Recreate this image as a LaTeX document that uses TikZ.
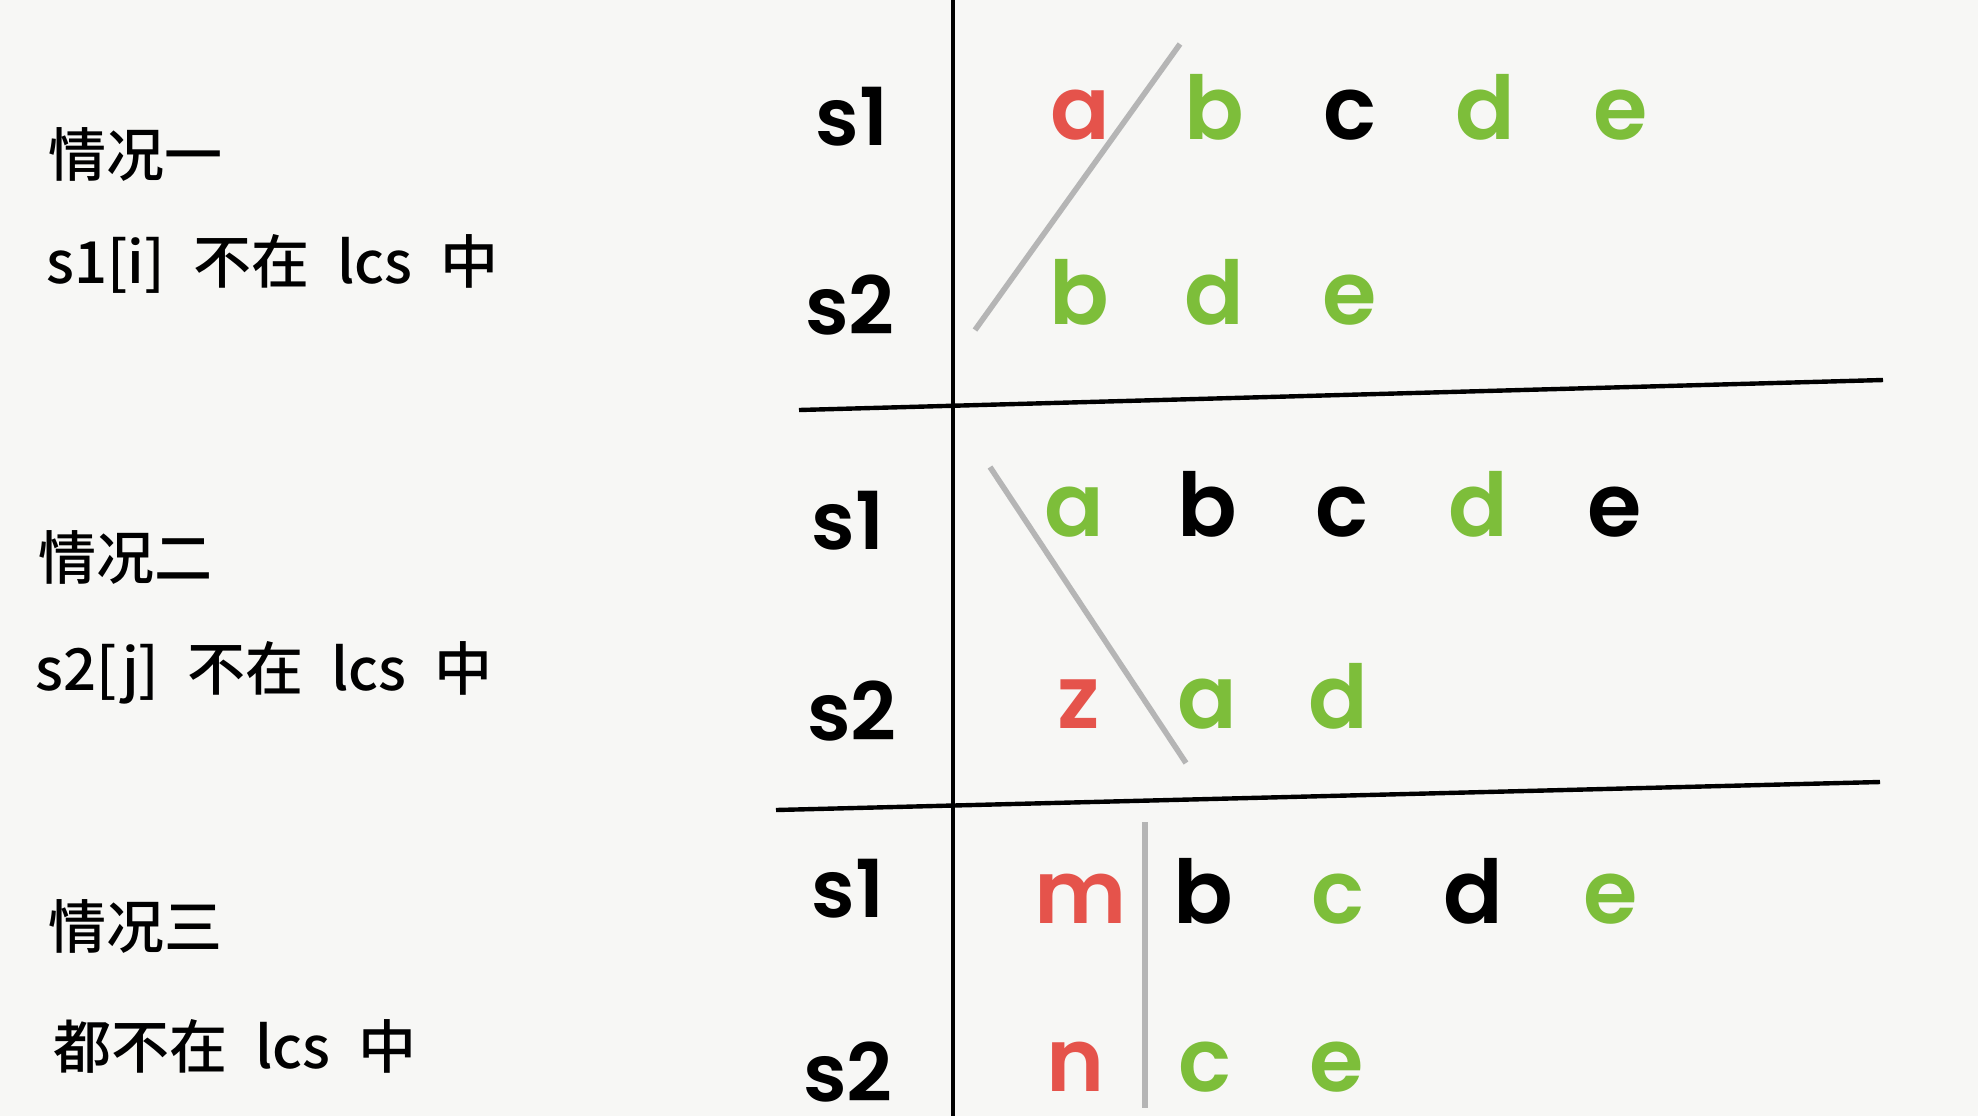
\documentclass[tikz,border=0pt]{standalone}
\usepackage{fontspec}
\setmainfont{Poppins}
\newfontfamily\tfont{Poppins SemiBold}
\newfontfamily\cjk{Noto Sans CJK SC Medium}
\definecolor{bg}{HTML}{F7F7F5}
\definecolor{cred}{HTML}{E5534B}
\definecolor{cgreen}{HTML}{7DBE3A}
\definecolor{cgrey}{HTML}{B5B5B5}
\newcommand{\gap}{\hspace{14pt}}
\begin{document}
\begin{tikzpicture}[x=0.5pt,y=-0.5pt,
  lab/.style={font=\tfont\fontsize{40}{48}\selectfont, anchor=base, inner sep=0pt, text depth=0pt},
  ch/.style={font=\tfont\fontsize{44}{52}\selectfont, anchor=base, inner sep=0pt, text depth=0pt},
  note/.style={font=\cjk\fontsize{29}{34}\selectfont, anchor=base west, inner sep=0pt, text depth=0pt},
  rule/.style={line width=2.2pt, black},
  vrule/.style={line width=1.8pt, black},
  cut/.style={line width=2.8pt, cgrey},
  R/.style={ch, text=cred}, G/.style={ch, text=cgreen}, K/.style={ch, text=black}]
\fill[bg] (0,0) rectangle (1978,1116);
\useasboundingbox (0,0) rectangle (1978,1116);

% left notes
\node[note] (n1) at (48,176) {情况一};
\node[note] (n2) at (46,283) {s1[i]\gap 不在\gap lcs\gap 中};
\node[note] (n3) at (38,579) {情况二};
\node[note] (n4) at (35,690) {s2[j]\gap 不在\gap lcs\gap 中};
\node[note] (n5) at (48,948) {情况三};
\node[note] (n6) at (53,1068) {都不在\gap lcs\gap 中};

% table rules
\coordinate (vt) at (953,0);
\coordinate (vb) at (953,1116);
\draw[vrule] (vt) -- (vb);
\coordinate (h1a) at (799,410); \coordinate (h1b) at (1883,380);
\coordinate (h2a) at (776,810); \coordinate (h2b) at (1880,782);
\draw[rule] (h1a) -- (h1b);
\draw[rule] (h2a) -- (h2b);

% row labels
\node[lab] (l1) at (852,145) {s1};
\node[lab] (l2) at (850,334) {s2};
\node[lab] (l3) at (848,549) {s1};
\node[lab] (l4) at (852,740) {s2};
\node[lab] (l5) at (848,917) {s1};
\node[lab] (l6) at (848,1101) {s2};

% block 1
\node[R] (a1) at (1080,139) {a};
\node[G] (a2) at (1214,139) {b};
\node[K] (a3) at (1350,139) {c};
\node[G] (a4) at (1485,139) {d};
\node[G] (a5) at (1621,139) {e};
\node[G] (b1) at (1079,324) {b};
\node[G] (b2) at (1214,324) {d};
\node[G] (b3) at (1350,324) {e};
\coordinate (c1a) at (1180,44); \coordinate (c1b) at (975,330);
\draw[cut] (c1a) -- (c1b);

% block 2
\node[G] (d1) at (1074,536) {a};
\node[K] (d2) at (1207,536) {b};
\node[K] (d3) at (1342,536) {c};
\node[G] (d4) at (1478,536) {d};
\node[K] (d5) at (1615,536) {e};
\node[R] (e1) at (1079,728) {z};
\node[G] (e2) at (1207,728) {a};
\node[G] (e3) at (1338,728) {d};
\coordinate (c2a) at (990,467); \coordinate (c2b) at (1186,763);
\draw[cut] (c2a) -- (c2b);

% block 3
\node[R] (f1) at (1081,923) {m};
\node[K] (f2) at (1203,923) {b};
\node[G] (f3) at (1338,923) {c};
\node[K] (f4) at (1473,923) {d};
\node[G] (f5) at (1611,923) {e};
\node[R] (g1) at (1076,1091) {n};
\node[G] (g2) at (1205,1091) {c};
\node[G] (g3) at (1337,1091) {e};
\coordinate (c3a) at (1145,822); \coordinate (c3b) at (1145,1108);
\draw[cut] (c3a) -- (c3b);
\end{tikzpicture}
\end{document}
